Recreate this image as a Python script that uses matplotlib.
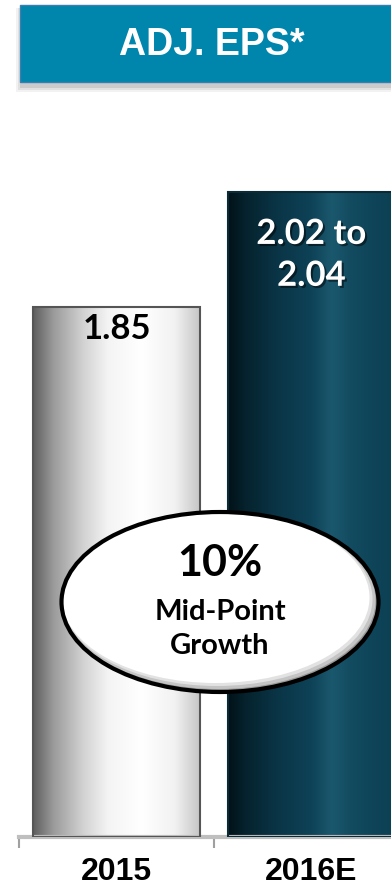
import numpy as np
import matplotlib
matplotlib.use("Agg")
import matplotlib.pyplot as plt
from matplotlib.colors import LinearSegmentedColormap
from matplotlib.patches import Ellipse, Rectangle
import matplotlib.patheffects as pe

# data
years = ["2015", "2016E"]
eps_low = [1.85, 2.02]
eps_high = [1.85, 2.04]
bar_labels = ["1.85", "2.02 to\n2.04"]
title = "ADJ. EPS*"
growth_pct = "10%"
growth_text = "Mid-Point\nGrowth"

AXIS_MIN = 1.02  # chart is not zero-based

eps_mid = [(lo + hi) / 2 for lo, hi in zip(eps_low, eps_high)]

W, H = 391, 890
fig = plt.figure(figsize=(W / 100, H / 100), dpi=100)
fig.patch.set_facecolor("white")

# header banner with soft shadow
for i, a in enumerate([0.10, 0.15, 0.22]):
    g = (3 - i) * 2
    fig.patches.append(Rectangle(((22 - g) / W, 1 - (86 + g) / H), (W - 22 + 2 * g) / W,
                                 (78 + g) / H, transform=fig.transFigure,
                                 color="#808080", alpha=a, lw=0, zorder=0))
fig.patches.append(Rectangle((20 / W, 1 - 82 / H), (W - 20) / W, 77 / H,
                             transform=fig.transFigure, facecolor="#0086ac",
                             edgecolor="#3a7fb0", lw=1, zorder=1))
fig.text(212 / W, 1 - 45 / H, title, color="white", fontsize=27,
         fontweight="bold", family="Liberation Sans", ha="center", va="center")

ax = fig.add_axes([19 / W, (H - 837) / H, (W - 19) / W, (837 - 110) / H])
ax.set_facecolor("none")

x = np.arange(len(years))
width = 0.856
bars = ax.bar(x, [m - AXIS_MIN for m in eps_mid], width=width, bottom=AXIS_MIN,
              color="none", zorder=2)

gray_cmap = LinearSegmentedColormap.from_list("g", [
    (0.0, "#5e5e5e"), (0.12, "#9a9a9a"), (0.3, "#d2d2d2"), (0.45, "#f4f4f4"),
    (0.65, "#ffffff"), (0.85, "#f2f2f2"), (1.0, "#c6c6c6")])
teal_cmap = LinearSegmentedColormap.from_list("t", [
    (0.0, "#021219"), (0.1, "#05222d"), (0.3, "#0a3547"), (0.5, "#0e4257"),
    (0.62, "#1a586e"), (0.75, "#124a5f"), (1.0, "#0c3f52")])
grad = np.linspace(0, 1, 256).reshape(1, -1)

for rect, cmap, edge in zip(bars, [gray_cmap, teal_cmap], ["#555555", "#0a2a36"]):
    x0, y0 = rect.get_x(), rect.get_y()
    x1, y1 = x0 + rect.get_width(), y0 + rect.get_height()
    im = ax.imshow(grad, cmap=cmap, extent=(x0, x1, y0, y1), aspect="auto",
                   zorder=1, interpolation="bicubic")
    im.set_clip_path(rect)
    ax.add_patch(Rectangle((x0, y0), x1 - x0, y1 - y0, fill=False,
                           edgecolor=edge, lw=1.5, zorder=3))

ax.set_xlim(-0.5, 1.408)
ax.set_ylim(AXIS_MIN, AXIS_MIN + 727 / 639)

# value labels inside bars
ax.text(x[0], eps_mid[0] - 0.035, bar_labels[0], ha="center", va="center",
        fontsize=25, fontweight="bold", family="Lato", color="black", zorder=5)
ax.text(x[1], eps_mid[1] - 0.099, bar_labels[1], ha="center", va="center",
        fontsize=25, fontweight="bold", family="Lato", color="white",
        linespacing=1.38, zorder=5,
        path_effects=[pe.withSimplePatchShadow(offset=(1.5, -1.5),
                                               shadow_rgbFace="black", alpha=0.5)])

# axis styling
for s in ["top", "right", "left"]:
    ax.spines[s].set_visible(False)
ax.spines["bottom"].set_color("#bfbfbf")
ax.spines["bottom"].set_linewidth(3)
ax.set_yticks([])
ax.set_xticks([-0.5, 0.5], minor=False)
ax.set_xticklabels([])
ax.tick_params(axis="x", length=8, width=1.5, color="#a0a0a0")
for xi, yr in zip(x, years):
    ax.text(xi, -0.048, yr, transform=ax.get_xaxis_transform(), ha="center",
            va="center", fontsize=23, fontweight="bold",
            family="Liberation Sans", color="black")

# growth ellipse with inner shading on the lower right
cx, cy, ew, eh = 220 / W, 1 - 602 / H, 317 / W, 180 / H
fig.patches.append(Ellipse((cx, cy), ew, eh, transform=fig.transFigure,
                           facecolor="#9a9a9a", lw=0, zorder=7))
for i, c in enumerate(["#c4c4c4", "#e2e2e2", "#ffffff"]):
    s = (i + 1) * 3
    fig.patches.append(Ellipse((cx - s / 2 / W, cy + s / 2 / H), ew - s / W,
                               eh - s / H, transform=fig.transFigure,
                               facecolor=c, lw=0, zorder=7))
fig.patches.append(Ellipse((cx, cy), ew, eh, transform=fig.transFigure,
                           facecolor="none", edgecolor="black", lw=3, zorder=7))
fig.text(cx, 1 - 563 / H, growth_pct, ha="center", va="center", fontsize=31,
         fontweight="bold", family="Lato", zorder=8)
fig.text(cx, 1 - 629 / H, growth_text, ha="center", va="center", fontsize=21,
         fontweight="bold", family="Lato", linespacing=1.4, zorder=8)

fig.savefig("out.png", dpi=100)
